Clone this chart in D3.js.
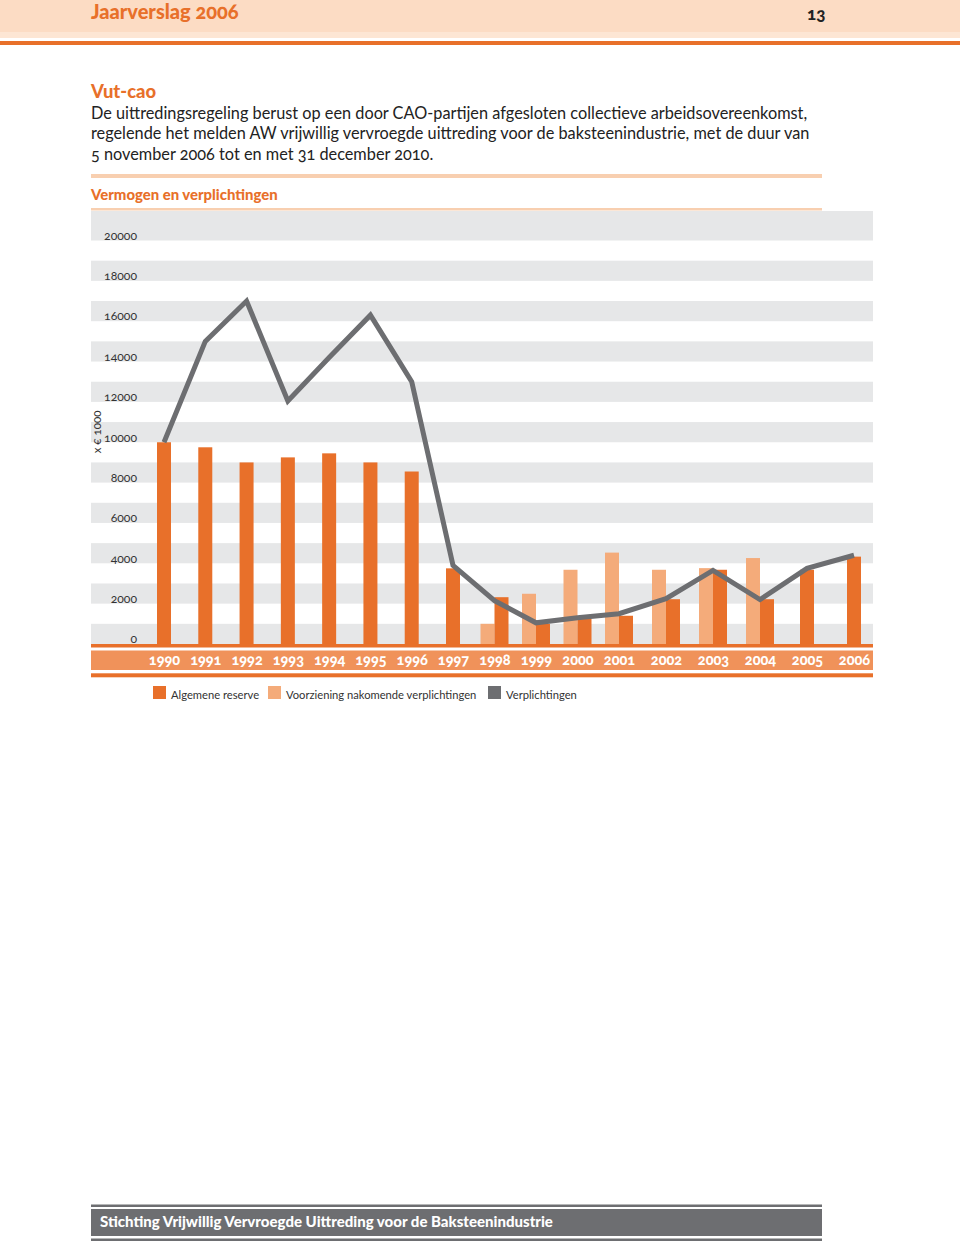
<!DOCTYPE html>
<html><head><meta charset="utf-8">
<script src="https://cdn.jsdelivr.net/npm/d3@7/dist/d3.min.js"></script>
<style>
html,body{margin:0;padding:0;background:#fff;}
svg{display:block;font-family:Lato,"Open Sans",sans-serif;font-feature-settings:"onum" 1;font-variant-numeric:oldstyle-nums;}
</style></head>
<body>
<svg id="c" width="960" height="1242"></svg>
<script>
const years = [1990,1991,1992,1993,1994,1995,1996,1997,1998,1999,2000,2001,2002,2003,2004,2005,2006];
const algemeneReserve = [10000,9750,9000,9250,9450,9000,8550,3750,2320,1000,1250,1400,2220,3680,2220,3680,4330];
const voorziening = [null,null,null,null,null,null,null,null,1000,2490,3680,4530,3680,3760,4260,null,null];
const verplichtingen = [10000,15000,17000,12050,14200,16300,13000,3900,2150,1050,1300,1500,2250,3650,2200,3750,4400];
const yTicks = [0,2000,4000,6000,8000,10000,12000,14000,16000,18000,20000];
const seriesNames = ["Algemene reserve","Voorziening nakomende verplichtingen","Verplichtingen"];
const paragraph = [
 "De uittredingsregeling berust op een door CAO-partijen afgesloten collectieve arbeidsovereenkomst,",
 "regelende het melden AW vrijwillig vervroegde uittreding voor de baksteenindustrie, met de duur van",
 "5 november 2006 tot en met 31 december 2010."
];

const C = {dark:"#e8702a", light:"#f4ab7a", gray:"#6d6e71", band:"#e6e7e8", peach:"#fcdcc4", strip:"#f0925a", text:"#333"};
const svg = d3.select("#c");

// header
svg.append("rect").attr("x",0).attr("y",0).attr("width",960).attr("height",38).attr("fill",C.peach);
svg.append("rect").attr("x",0).attr("y",32).attr("width",960).attr("height",6).attr("fill","#fde6d4");
svg.append("rect").attr("x",0).attr("y",41).attr("width",960).attr("height",4).attr("fill",C.dark);
svg.append("text").attr("x",91).attr("y",19).attr("fill",C.dark).attr("font-size",20).attr("font-weight",900).text("Jaarverslag 2006");
svg.append("text").attr("x",807).attr("y",20).attr("fill","#222").attr("font-size",17).attr("font-weight",900).text("13");

// title + paragraph
svg.append("text").attr("x",91).attr("y",98).attr("fill",C.dark).attr("font-size",18.4).attr("font-weight",900).text("Vut-cao");
svg.append("g").selectAll("text").data(paragraph).join("text")
  .attr("x",91).attr("y",(d,i)=>118.5+i*20.5).attr("fill","#222").attr("font-size",16.3).text(d=>d);

// chart title rules
svg.append("rect").attr("x",91).attr("y",174).attr("width",731).attr("height",4).attr("fill","#f8cfb0");
svg.append("text").attr("x",91).attr("y",200).attr("fill",C.dark).attr("font-size",14.9).attr("font-weight",900).text("Vermogen en verplichtingen");
svg.append("rect").attr("x",91).attr("y",208).attr("width",731).attr("height",2.5).attr("fill","#f8cfb0");

// scales
const y = d3.scaleLinear().domain([0,20000]).range([644,240.5]);
const x = d3.scaleLinear().domain([1990,1997,2001,2006]).range([164,453,619,854]);
const left = 91, right = 873, bw = 14;

// bands
const bandStep = yTicks[1]-yTicks[0];
svg.append("g").selectAll("rect").data(yTicks).join("rect")
  .attr("x",left).attr("width",right-left)
  .attr("y",(d,i)=> i===yTicks.length-1 ? 211 : y(d+bandStep/2))
  .attr("height",(d,i)=> i===yTicks.length-1 ? y(d)-211 : y(d)-y(d+bandStep/2))
  .attr("fill",C.band);

// y axis labels
const yAxis = d3.axisLeft(y).tickValues(yTicks).tickSize(0).tickPadding(0).tickFormat(d3.format("d"));
const ya = svg.append("g").attr("transform","translate(137,0)").call(yAxis);
ya.select(".domain").remove();
ya.selectAll("text").attr("font-size",12.2).attr("fill",C.text).attr("dy","-0.1em").attr("font-family","Lato,sans-serif");
svg.append("text").attr("transform","translate(101,432) rotate(-90)").attr("text-anchor","middle")
  .attr("font-size",11.5).attr("fill",C.text).text("x € 1000");

// bars
const data = years.map((yr,i)=>({yr, a:algemeneReserve[i], v:voorziening[i], l:verplichtingen[i]}));
svg.append("g").selectAll("rect").data(data.filter(d=>d.v!=null)).join("rect")
  .attr("x",d=>x(d.yr)-bw).attr("width",bw).attr("y",d=>y(d.v)).attr("height",d=>y(0)-y(d.v)).attr("fill",C.light);
svg.append("g").selectAll("rect").data(data).join("rect")
  .attr("x",d=> d.v!=null ? x(d.yr) : x(d.yr)-bw/2).attr("width",bw)
  .attr("y",d=>y(d.a)).attr("height",d=>y(0)-y(d.a)+2).attr("fill",C.dark);

// baseline and strip
svg.append("rect").attr("x",left).attr("y",644).attr("width",right-left).attr("height",3.5).attr("fill",C.dark);
svg.append("rect").attr("x",left).attr("y",650.5).attr("width",right-left).attr("height",19.5).attr("fill",C.strip);
svg.append("rect").attr("x",left).attr("y",673.3).attr("width",right-left).attr("height",4).attr("fill",C.dark);

const xAxis = d3.axisBottom(x).tickValues(years).tickSize(0).tickPadding(0).tickFormat(d3.format("d"));
const xa = svg.append("g").attr("transform","translate(0,664.5)").call(xAxis);
xa.select(".domain").remove();
xa.selectAll("text").attr("dy",0).attr("font-size",14.5).attr("font-weight",900).attr("fill","#fff").attr("font-family","Lato,sans-serif");

// line
const line = d3.line().x(d=>x(d.yr)).y(d=>y(d.l));
svg.append("path").datum(data).attr("d",line).attr("fill","none").attr("stroke",C.gray).attr("stroke-width",5).attr("stroke-linejoin","miter");

// legend
const lg = svg.append("g");
const legX = [153,268,488], legC=[C.dark,C.light,C.gray];
seriesNames.forEach((n,i)=>{
  lg.append("rect").attr("x",legX[i]).attr("y",686).attr("width",13).attr("height",13).attr("fill",legC[i]);
  lg.append("text").attr("x",legX[i]+18).attr("y",699).attr("font-size",11.2).attr("fill",C.text).text(n);
});

// footer
svg.append("rect").attr("x",91).attr("y",1204.5).attr("width",731).attr("height",2.5).attr("fill",C.gray);
svg.append("rect").attr("x",91).attr("y",1209).attr("width",731).attr("height",27).attr("fill",C.gray);
svg.append("rect").attr("x",91).attr("y",1238.5).attr("width",731).attr("height",2.5).attr("fill",C.gray);
svg.append("text").attr("x",100).attr("y",1227).attr("fill","#fff").attr("font-size",15).attr("font-weight",900).text("Stichting Vrijwillig Vervroegde Uittreding voor de Baksteenindustrie");
</script>
</body></html>
